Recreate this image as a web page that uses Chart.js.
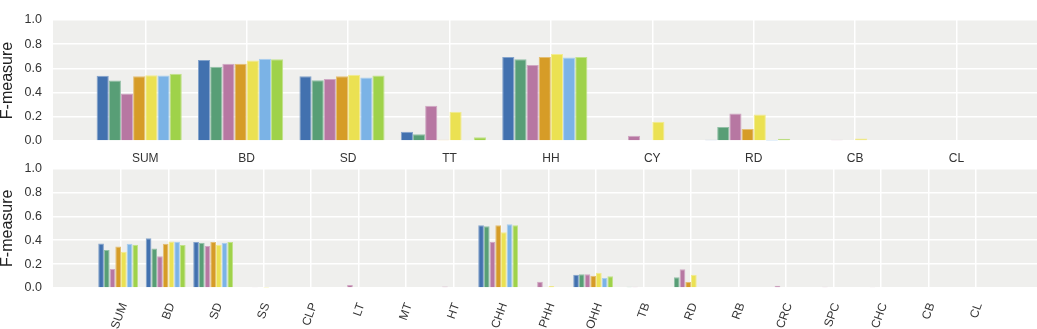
<!DOCTYPE html>
<html>
<head>
<meta charset="utf-8">
<script src="https://cdn.jsdelivr.net/npm/chart.js@4.4.0/dist/chart.umd.min.js"></script>
<style>
  body { margin: 0; background: #fff; }
  #wrap { position: relative; width: 1037px; height: 329px; overflow: hidden; }
  .box { position: absolute; left: 0; width: 1037px; }
  #topBox { top: 0; height: 165px; }
  #botBox { top: 150px; height: 179px; }
</style>
</head>
<body>
<div id="wrap">
  <div class="box" id="topBox"><canvas id="topChart"></canvas></div>
  <div class="box" id="botBox"><canvas id="botChart"></canvas></div>
</div>
<script>
// upper panel
const topCategories = ['SUM', 'BD', 'SD', 'TT', 'HH', 'CY', 'RD', 'CB', 'CL'];
const topM1 = [0.540, 0.670, 0.535, 0.077, 0.695, 0.000, 0.011, 0.000, 0];
const topM2 = [0.500, 0.613, 0.503, 0.055, 0.676, 0.000, 0.115, 0.000, 0];
const topM3 = [0.393, 0.638, 0.512, 0.291, 0.628, 0.044, 0.228, 0.010, 0];
const topM4 = [0.535, 0.638, 0.535, 0.011, 0.695, 0.000, 0.099, 0.000, 0];
const topM5 = [0.544, 0.665, 0.547, 0.242, 0.720, 0.159, 0.220, 0.020, 0];
const topM6 = [0.541, 0.679, 0.525, 0.008, 0.690, 0.000, 0.003, 0.000, 0];
const topM7 = [0.555, 0.676, 0.541, 0.030, 0.695, 0.000, 0.019, 0.000, 0];

// lower panel
const botCategories = ['SUM', 'BD', 'SD', 'SS', 'CLP', 'LT', 'MT', 'HT', 'CHH', 'PHH', 'OHH', 'TB', 'RD', 'RB', 'CRC', 'SPC', 'CHC', 'CB', 'CL'];
const botM1 = [0.373, 0.417, 0.384, 0, 0, 0, 0, 0, 0.525, 0, 0.110, 0, 0, 0, 0, 0, 0, 0, 0];
const botM2 = [0.318, 0.331, 0.378, 0, 0, 0, 0, 0, 0.517, 0, 0.116, 0.011, 0.091, 0, 0, 0, 0, 0, 0];
const botM3 = [0.160, 0.265, 0.351, 0.008, 0, 0.025, 0, 0.012, 0.384, 0.052, 0.116, 0.011, 0.157, 0.006, 0.019, 0.011, 0.005, 0, 0];
const botM4 = [0.348, 0.370, 0.384, 0, 0, 0, 0, 0, 0.525, 0, 0.102, 0, 0.050, 0, 0, 0, 0, 0, 0];
const botM5 = [0.304, 0.390, 0.362, 0.003, 0, 0, 0, 0, 0.467, 0.017, 0.127, 0, 0.110, 0, 0, 0, 0, 0, 0];
const botM6 = [0.370, 0.387, 0.378, 0, 0, 0, 0, 0, 0.533, 0, 0.083, 0, 0, 0, 0, 0, 0, 0, 0];
const botM7 = [0.362, 0.359, 0.384, 0, 0, 0, 0, 0, 0.525, 0, 0.099, 0, 0, 0, 0, 0, 0, 0, 0];

const seriesLabels = ['M1', 'M2', 'M3', 'M4', 'M5', 'M6', 'M7'];
const yTicks = [0, 0.2, 0.4, 0.6, 0.8, 1.0];

const seriesColors = ['#4271af', '#589e76', '#b777a2', '#d69c27', '#ebe152', '#7bb3e6', '#9fd24a'];
const BAR_W = 0.12;            // one bar, in category units
const TICK_SHIFT = BAR_W / 2;  // ticks sit half a bar right of the group centre
const FONT = '"Liberation Sans", Arial, sans-serif';

// lighter tint of a colour for the thin bar edge
function tint(hex, f) {
  const n = parseInt(hex.slice(1), 16);
  const ch = [n >> 16, (n >> 8) & 255, n & 255].map(c => Math.round(c + (255 - c) * f));
  return `rgb(${ch.join(',')})`;
}

const bgPlugin = {
  id: 'bg',
  beforeDraw(chart) {
    const { ctx, chartArea: a } = chart;
    ctx.save();
    ctx.fillStyle = '#efefed';
    ctx.fillRect(a.left, a.top, a.width, a.height);
    ctx.restore();
  }
};

function makeChart(id, categories, series, cfg) {
  return new Chart(document.getElementById(id), {
    type: 'bar',
    data: {
      datasets: series.map((vals, k) => ({
        label: seriesLabels[k],
        data: vals.map((v, i) => ({ x: i, y: v })),
        backgroundColor: seriesColors[k],
        borderColor: tint(seriesColors[k], 0.35),
        borderWidth: 1,
        categoryPercentage: BAR_W * series.length,
        barPercentage: 1
      }))
    },
    options: {
      responsive: true,
      maintainAspectRatio: false,
      animation: false,
      layout: { padding: { top: cfg.padTop, left: 0, right: 0, bottom: 0 } },
      plugins: { legend: { display: false }, tooltip: { enabled: false } },
      scales: {
        x: {
          type: 'linear',
          bounds: 'data',
          offset: false,
          min: cfg.xMin,
          max: cfg.xMax,
          afterBuildTicks: s => { s.ticks = categories.map((c, i) => ({ value: i + TICK_SHIFT })); },
          afterFit: s => { s.height = cfg.axisHeight; },
          grid: { color: '#ffffff', lineWidth: 1.5, drawTicks: false, offset: false },
          border: { display: false },
          ticks: {
            autoSkip: false,
            minRotation: cfg.rotation,
            maxRotation: cfg.rotation,
            padding: cfg.tickPad,
            labelOffset: cfg.labelOffset,
            color: '#333',
            font: { family: FONT, size: 12 },
            callback: (v, i) => categories[i]
          }
        },
        y: {
          min: 0,
          max: 1,
          afterBuildTicks: s => { s.ticks = yTicks.map(v => ({ value: v })); },
          afterFit: s => { s.width = 53; },
          grid: { color: '#ffffff', lineWidth: 1.5, drawTicks: false },
          border: { display: false },
          ticks: {
            padding: 11,
            color: '#333',
            font: { family: FONT, size: 12.5 },
            callback: v => v.toFixed(1)
          },
          title: {
            display: true,
            text: 'F-measure',
            color: '#222',
            font: { family: FONT, size: 16 },
            padding: { top: -2, bottom: 0 }
          }
        }
      }
    },
    plugins: [bgPlugin]
  });
}

makeChart('topChart', topCategories, [topM1, topM2, topM3, topM4, topM5, topM6, topM7], {
  padTop: 20, axisHeight: 24, xMin: -0.85, xMax: 8.854, rotation: 0, tickPad: 10, labelOffset: 0
});

makeChart('botChart', botCategories, [botM1, botM2, botM3, botM4, botM5, botM6, botM7], {
  padTop: 17, axisHeight: 41, xMin: -1.372, xMax: 19.344, rotation: 70, tickPad: 13, labelOffset: 3
});
</script>
</body>
</html>
